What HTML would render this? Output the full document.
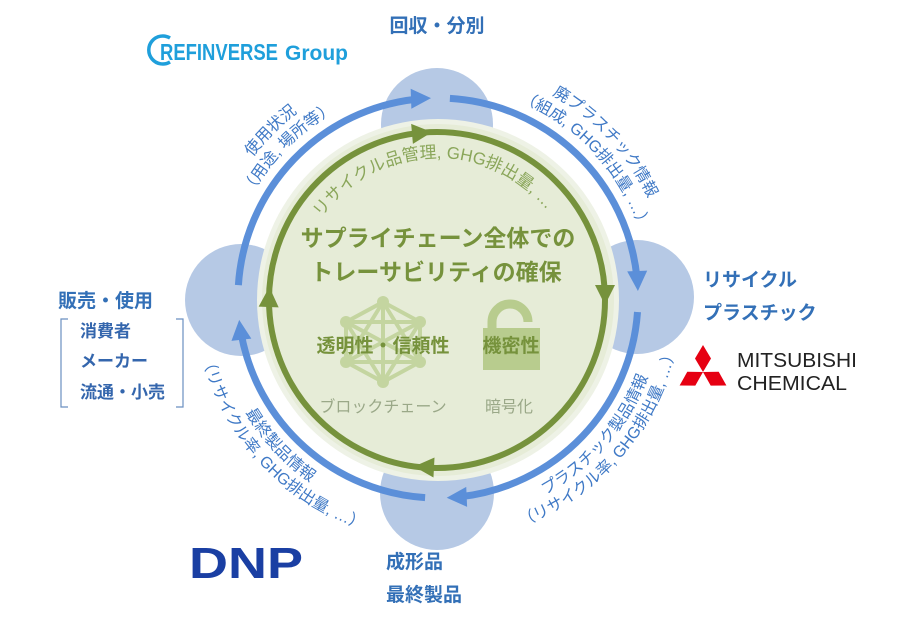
<!DOCTYPE html>
<html><head><meta charset="utf-8">
<style>
html,body{margin:0;padding:0;background:#fff;}
svg{display:block;font-family:"Liberation Sans","Noto Sans CJK JP",sans-serif;}
</style></head>
<body>
<svg width="904" height="619" viewBox="0 0 904 619" xmlns="http://www.w3.org/2000/svg">
<defs>
  <path id="cw233" d="M233 0 A233 233 0 1 1 -233 0 A233 233 0 1 1 233 0"/>
  <path id="cw213" d="M213 0 A213 213 0 1 1 -213 0 A213 213 0 1 1 213 0"/>
  <path id="cw142" d="M142 0 A142 142 0 1 1 -142 0 A142 142 0 1 1 142 0"/>
  <path id="ccw224" d="M224 0 A224 224 0 1 0 -224 0 A224 224 0 1 0 224 0"/>
  <path id="ccw243" d="M243 0 A243 243 0 1 0 -243 0 A243 243 0 1 0 243 0"/>
</defs>

<g fill="#b6c9e5">
  <circle cx="437" cy="124" r="56"/>
  <circle cx="637" cy="297" r="57"/>
  <circle cx="437" cy="493" r="57"/>
  <circle cx="241" cy="300" r="56"/>
</g>

<circle cx="438" cy="300" r="181" fill="#eef2e6"/>
<circle cx="438" cy="300" r="176" fill="#e6ecd7"/>

<g fill="none" stroke="#5b8fd9" stroke-width="7">
  <path d="M238.4 285.1 A200 200 0 0 1 417.1 99.1"/>
  <path d="M449.9 98.4 A200 200 0 0 1 636.9 277.1"/>
  <path d="M637.5 312.0 A200 200 0 0 1 460.6 496.7"/>
  <path d="M425.1 497.6 A200 200 0 0 1 241.2 333.8"/>
</g>
<g fill="#5b8fd9">
  <polygon points="0,0 -20,-10 -20,10" transform="translate(431,98.1) rotate(-2)"/>
  <polygon points="0,0 -20,-10 -20,10" transform="translate(637.9,291) rotate(88)"/>
  <polygon points="0,0 -20,-10 -20,10" transform="translate(446.7,497.8) rotate(177.5)"/>
  <polygon points="0,0 -20,-10 -20,10" transform="translate(239.2,319.9) rotate(263.7)"/>
</g>

<circle cx="437" cy="300" r="168" fill="none" stroke="#76923c" stroke-width="6"/>
<g fill="#76923c">
  <polygon points="10,0 -10,-10 -10,10" transform="translate(422,133) rotate(-5)"/>
  <polygon points="10,0 -10,-10 -10,10" transform="translate(605,295) rotate(90)"/>
  <polygon points="10,0 -10,-10 -10,10" transform="translate(424,467) rotate(183)"/>
  <polygon points="10,0 -10,-10 -10,10" transform="translate(269,297) rotate(272)"/>
</g>

<g stroke="#c4d5a0" stroke-width="4" fill="none" stroke-linejoin="round">
  <polygon points="383,302 420,322 420,362 383,382 346,362 346,322"/>
  <line x1="383" y1="302" x2="383" y2="382"/>
  <line x1="346" y1="322" x2="420" y2="362"/>
  <line x1="420" y1="322" x2="346" y2="362"/>
  <polygon points="383,302 420,362 346,362"/>
  <polygon points="383,382 346,322 420,322"/>
</g>
<g fill="#c4d5a0">
  <circle cx="383" cy="302" r="6"/><circle cx="420" cy="322" r="6"/><circle cx="420" cy="362" r="6"/>
  <circle cx="383" cy="382" r="6"/><circle cx="346" cy="362" r="6"/><circle cx="346" cy="322" r="6"/>
</g>
<path d="M492 330 L492 322 A18 18 0 0 1 528 322" fill="none" stroke="#b8cc8e" stroke-width="9"/>
<rect x="483" y="328" width="57" height="42" fill="#b8cc8e"/>

<g fill="#76923c" font-weight="bold" text-anchor="middle">
  <text x="438" y="246" font-size="23">サプライチェーン全体での</text>
  <text x="436" y="280" font-size="23">トレーサビリティの確保</text>
  <text x="383" y="352" font-size="19">透明性・信頼性</text>
  <text x="511" y="352" font-size="19">機密性</text>
</g>
<g fill="#9aa888" font-size="16" text-anchor="middle">
  <text x="383" y="412">ブロックチェーン</text>
  <text x="509" y="412">暗号化</text>
</g>

<g font-size="16" fill="#3f79c6" text-anchor="middle">
  <g transform="translate(438,298) rotate(-225)">
    <text><textPath href="#cw233" startOffset="25%">使用状況</textPath></text>
    <text><textPath href="#cw213" startOffset="25%">（用途, 場所等）</textPath></text>
  </g>
  <g transform="translate(438,298) rotate(-133)">
    <text><textPath href="#cw233" startOffset="25%">廃プラスチック情報</textPath></text>
    <text><textPath href="#cw213" startOffset="25%">（組成, GHG排出量, …）</textPath></text>
  </g>
  <g transform="translate(438,298) rotate(131)">
    <text><textPath href="#ccw224" startOffset="25%">プラスチック製品情報</textPath></text>
    <text><textPath href="#ccw243" startOffset="25%">（リサイクル率, GHG排出量, …）</textPath></text>
  </g>
  <g transform="translate(438,298) rotate(227)">
    <text><textPath href="#ccw224" startOffset="25%">最終製品情報</textPath></text>
    <text><textPath href="#ccw243" startOffset="25%">（リサイクル率, GHG排出量, …）</textPath></text>
  </g>
</g>
<g transform="translate(437,300) rotate(-182)" font-size="17" fill="#8aa65a" text-anchor="middle">
  <text><textPath href="#cw142" startOffset="25%">リサイクル品管理, GHG排出量, …</textPath></text>
</g>

<g fill="#3370b7" font-weight="bold" font-size="19">
  <text x="437" y="32" text-anchor="middle">回収・分別</text>
  <text x="703" y="286">リサイクル</text>
  <text x="703" y="319">プラスチック</text>
  <text x="386" y="568">成形品</text>
  <text x="386" y="601">最終製品</text>
  <text x="58" y="307">販売・使用</text>
</g>
<g fill="#3466ad" font-weight="bold" font-size="17">
  <text x="80" y="337">消費者</text>
  <text x="80" y="367">メーカー</text>
  <text x="80" y="398">流通・小売</text>
</g>
<path d="M68 319 L61 319 L61 407 L68 407 M176 319 L183 319 L183 407 L176 407" fill="none" stroke="#6a8fc0" stroke-width="1.2"/>

<path d="M170 38 A14 14 0 1 0 170 62" fill="none" stroke="#1f9fdb" stroke-width="3.5"/>
<text x="160" y="60" font-size="23" fill="#1f9fdb" font-weight="bold" textLength="118" lengthAdjust="spacingAndGlyphs">REFINVERSE</text>
<text x="285" y="60" font-size="21" fill="#1f9fdb" font-weight="bold" textLength="63" lengthAdjust="spacingAndGlyphs">Group</text>

<text x="189" y="578" font-size="44" font-weight="bold" fill="#1a3fa3" textLength="114" lengthAdjust="spacingAndGlyphs">DNP</text>

<g fill="#e60012">
  <polygon points="703,345 711,358.5 703,372 695,358.5"/>
  <polygon points="703,372 695.3,385.6 679.6,385.5 687.3,371.8"/>
  <polygon points="703,372 710.7,385.6 726.4,385.5 718.7,371.8"/>
</g>
<g fill="#222" font-size="20">
  <text x="737" y="367" textLength="120" lengthAdjust="spacingAndGlyphs">MITSUBISHI</text>
  <text x="737" y="390" textLength="110" lengthAdjust="spacingAndGlyphs">CHEMICAL</text>
</g>
</svg>
</body></html>
